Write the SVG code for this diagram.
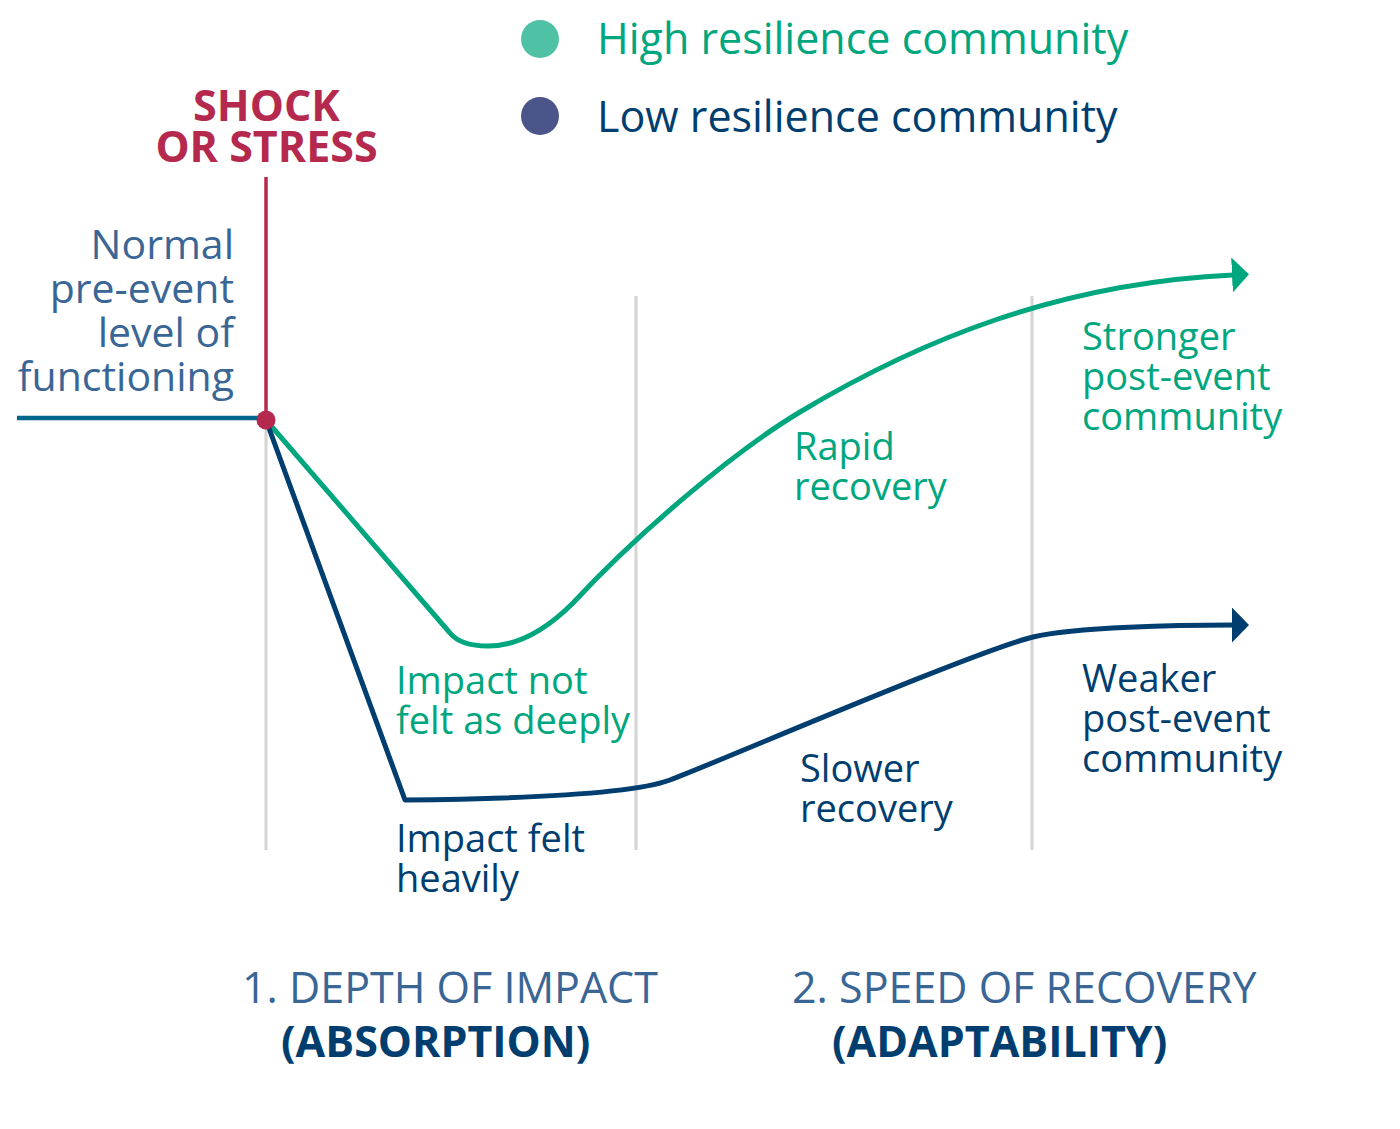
<svg xmlns="http://www.w3.org/2000/svg" width="1400" height="1129" viewBox="0 0 1400 1129">
<style>
text{font-family:"Open Sans","Liberation Sans",sans-serif}
.lbl{font-size:38px}
.g{fill:#00a67e}
.n{fill:#003e70}
.sb{fill:#3a6696}
.grid{stroke:#d4d4d4;stroke-width:3;fill:none}
.curve{fill:none;stroke-width:5;stroke-linejoin:round}
</style>
<defs>
<marker id="arrG" markerUnits="userSpaceOnUse" markerWidth="18" markerHeight="36" refX="1" refY="17.5" orient="auto">
<path d="M0,0 L17,17.5 L0,35 Z" fill="#00a67e"/>
</marker>
<marker id="arrN" markerUnits="userSpaceOnUse" markerWidth="18" markerHeight="36" refX="1" refY="17.5" orient="auto">
<path d="M0,0 L17,17.5 L0,35 Z" fill="#003e70"/>
</marker>
</defs>
<rect width="1400" height="1129" fill="#ffffff"/>

<g id="gridlines">
<line class="grid" x1="266" y1="420" x2="266" y2="850"/>
<line class="grid" x1="636" y1="296" x2="636" y2="850"/>
<line class="grid" x1="1032" y1="296" x2="1032" y2="850"/>
</g>

<g id="legend">
<circle cx="540" cy="39" r="19" fill="#4fc2a5"/>
<text x="597" y="54" font-size="43" class="g">High resilience community</text>
<circle cx="540" cy="116" r="19" fill="#4b5589"/>
<text x="597" y="132" font-size="43" class="n">Low resilience community</text>
</g>

<g id="shock">
<text x="266.5" y="121" font-size="43" font-weight="bold" fill="#b5294e" text-anchor="middle">SHOCK</text>
<text x="266.5" y="162" font-size="43" font-weight="bold" fill="#b5294e" text-anchor="middle">OR STRESS</text>
<line x1="266" y1="177" x2="266" y2="420" stroke="#b5294e" stroke-width="3.5"/>
</g>

<g id="normal-label">
<text class="sb" font-size="41" text-anchor="end"><tspan x="234" y="259">Normal</tspan><tspan x="234" y="303">pre-event</tspan><tspan x="234" y="347">level of</tspan><tspan x="234" y="391">functioning</tspan></text>
</g>

<g id="connectors">
<line x1="17" y1="418" x2="266" y2="418" stroke="#00668c" stroke-width="4.5"/>
<path id="high" class="curve" stroke="#00a67e" marker-end="url(#arrG)" d="M266,420 L450,633 C459,644 474,646 488,646 C510,646 540,636 573,603 C633,538 730,454 800,412 C920,340 1060,283 1233,275"/>
<path id="low" class="curve" stroke="#003e70" marker-end="url(#arrN)" d="M266,420 L405,800 C500,799 630,795 670,780 C730,757 973,652 1033,637 C1075,627 1180,625 1233,625"/>
<circle cx="266" cy="420" r="9.5" fill="#b5294e"/>
</g>

<g id="label-impact-not">
<text class="lbl g"><tspan x="396" y="694">Impact not</tspan><tspan x="396" y="734">felt as deeply</tspan></text>
</g>
<g id="label-impact-felt">
<text class="lbl n"><tspan x="396" y="852">Impact felt</tspan><tspan x="396" y="892">heavily</tspan></text>
</g>
<g id="label-rapid">
<text class="lbl g"><tspan x="794" y="460">Rapid</tspan><tspan x="794" y="500">recovery</tspan></text>
</g>
<g id="label-slower">
<text class="lbl n"><tspan x="800" y="782">Slower</tspan><tspan x="800" y="822">recovery</tspan></text>
</g>
<g id="label-stronger">
<text class="lbl g"><tspan x="1082" y="350">Stronger</tspan><tspan x="1082" y="390">post-event</tspan><tspan x="1082" y="430">community</tspan></text>
</g>
<g id="label-weaker">
<text class="lbl n"><tspan x="1082" y="692">Weaker</tspan><tspan x="1082" y="732">post-event</tspan><tspan x="1082" y="772">community</tspan></text>
</g>

<g id="axis-depth">
<text x="242" y="1003" font-size="43" class="sb">1. DEPTH OF IMPACT</text>
<text x="281" y="1057" font-size="43" font-weight="bold" class="n">(ABSORPTION)</text>
</g>
<g id="axis-speed">
<text x="792" y="1003" font-size="43" class="sb">2. SPEED OF RECOVERY</text>
<text x="832" y="1057" font-size="43" font-weight="bold" class="n">(ADAPTABILITY)</text>
</g>
</svg>
